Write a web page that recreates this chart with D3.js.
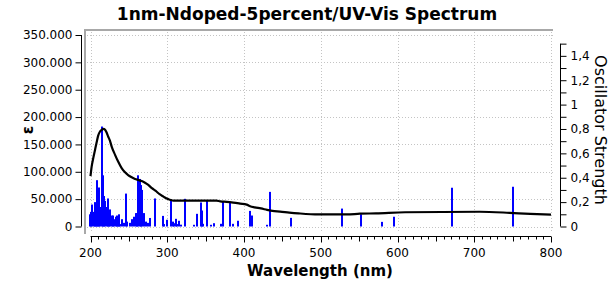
<!DOCTYPE html>
<html>
<head>
<meta charset="utf-8">
<script src="https://cdn.jsdelivr.net/npm/d3@7"></script>
<style>
  body { margin: 0; background: #fff; }
  svg { display: block; }
  text { font-family: "DejaVu Sans", Verdana, sans-serif; }
</style>
</head>
<body>
<div id="chart"></div>
<script>
// absorption curve (epsilon)
const curveNm = [200, 201.5, 203.6, 205.9, 208, 210, 212.4, 214.6, 216.7, 219, 221, 223, 225.4, 227.6, 232, 236, 240.6, 245, 249, 253.7, 258, 262.3, 266.7, 271, 275.3, 280, 285, 290, 295, 299.3, 303.6, 308, 364, 369, 377.5, 386, 395, 403.5, 408, 414, 422, 430, 437, 447, 459, 471, 497, 534, 551, 572, 610, 707, 746, 773, 800];
const curveEps = [92000, 109500, 125000, 140000, 154000, 166000, 173600, 176700, 178500, 176700, 171800, 164500, 156600, 146000, 131000, 118700, 106600, 99000, 94000, 90000, 87000, 85000, 83000, 80000, 76000, 70000, 65000, 59000, 54600, 51000, 49000, 47300, 47300, 46000, 45000, 43600, 41800, 40000, 37000, 35000, 33000, 30500, 28500, 27300, 25500, 24000, 22000, 22000, 23400, 24000, 26000, 27000, 25000, 23000, 21600];

// oscillator strength sticks
const stickNm = [199.5, 201, 202.5, 204, 205.5, 207, 208.5, 210, 211.5, 213, 215, 216.5, 218, 219.5, 221, 223, 224.5, 226, 228, 229.5, 231, 233, 234.5, 236, 237.5, 239, 241, 243, 246, 248, 251, 254, 257, 259, 260.5, 262.3, 264, 265.5, 267, 270, 272, 275, 277.5, 284, 294.5, 296, 300, 304.5, 307, 309, 311, 313, 315.7, 318, 322.9, 335.5, 339.4, 343.7, 345.3, 347, 351.5, 357, 361, 370, 372.4, 381.5, 385.4, 391.8, 407.6, 410, 430, 433.6, 461, 527.4, 552, 579.4, 595.5, 671, 750.5];
const stickF = [0.10, 0.12, 0.18, 0.12, 0.20, 0.09, 0.38, 0.25, 0.32, 0.16, 0.82, 0.42, 0.25, 0.21, 0.16, 0.23, 0.10, 0.14, 0.09, 0.09, 0.06, 0.08, 0.09, 0.04, 0.10, 0.02, 0.06, 0.03, 0.27, 0.04, 0.03, 0.06, 0.08, 0.11, 0.11, 0.42, 0.39, 0.34, 0.30, 0.11, 0.04, 0.03, 0.07, 0.23, 0.087, 0.02, 0.055, 0.219, 0.04, 0.027, 0.063, 0.02, 0.047, 0.015, 0.227, 0.014, 0.104, 0.197, 0.131, 0.022, 0.21, 0.014, 0.027, 0.022, 0.205, 0.2, 0.022, 0.047, 0.128, 0.09, 0.014, 0.284, 0.071, 0.147, 0.10, 0.038, 0.08, 0.318, 0.326];

const leftTicks = [0, 50000, 100000, 150000, 200000, 250000, 300000, 350000];
const rightTicks = [0, 0.2, 0.4, 0.6, 0.8, 1, 1.2, 1.4];
const xTicks = [200, 300, 400, 500, 600, 700, 800];

const W = 614, H = 282;
const frame = {left: 85, top: 30, right: 553, bottom: 231};

const svg = d3.select("#chart").append("svg")
  .attr("width", W).attr("height", H);

const x = d3.scaleLinear().domain([200, 800]).range([90.5, 551]);
const yL = d3.scaleLinear().domain([0, 350000]).range([226.5, 35]);
const yR = d3.scaleLinear().domain([0, 1.571]).range([226.5, 35]);

// dotted grid
const grid = svg.append("g").attr("stroke", "#c4c4c4").attr("stroke-dasharray", "1,2").attr("stroke-width", 1);
grid.selectAll("line.v").data(xTicks).join("line")
  .attr("x1", d => Math.round(x(d)) + 0.5).attr("x2", d => Math.round(x(d)) + 0.5)
  .attr("y1", frame.top + 2).attr("y2", frame.bottom + 2);
grid.selectAll("line.h").data(leftTicks).join("line")
  .attr("x1", frame.left + 2).attr("x2", frame.right)
  .attr("y1", d => Math.round(yL(d)) + 0.5).attr("y2", d => Math.round(yL(d)) + 0.5);

// plot frame, top and left edges
svg.append("path")
  .attr("d", `M${frame.left},${frame.bottom + 3}V${frame.top}H${frame.right}`)
  .attr("fill", "none").attr("stroke", "#a8a8a8").attr("stroke-width", 2);

// sticks
svg.append("g").selectAll("rect").data(stickNm).join("rect")
  .attr("x", d => Math.round(x(d)) - 1)
  .attr("width", 2)
  .attr("y", (d, i) => yR(stickF[i]))
  .attr("height", (d, i) => yR(0) - yR(stickF[i]))
  .attr("fill", "#0000ff");

// spectrum curve
svg.append("path")
  .datum(curveNm)
  .attr("d", d3.line().x(d => x(d)).y((d, i) => yL(curveEps[i])).curve(d3.curveMonotoneX))
  .attr("fill", "none").attr("stroke", "#000").attr("stroke-width", 2.2);

// left axis
const fmtL = d => d === 0 ? "0" : d3.format(",.0f")(d).replace(/,/g, ".") .replace(/^(\d+)\.000$/, "$1.000");
const axL = svg.append("g").attr("transform", "translate(81.5,0)")
  .call(d3.axisLeft(yL).tickValues(leftTicks).tickSize(6).tickPadding(3).tickFormat(fmtL));
axL.select(".domain").attr("d", `M-0,${yL(0)}V${yL(350000)}`);

// right axis
const axR = svg.append("g").attr("transform", "translate(560.5,0)")
  .call(d3.axisRight(yR).tickValues(d3.range(0, 16).map(i => i / 10)).tickSize(6).tickPadding(4)
    .tickFormat(d => rightTicks.some(t => Math.abs(t - d) < 1e-6) ? String(+d.toFixed(1)).replace(".", ",") : ""));
axR.select(".domain").attr("d", `M0,${yR(0)}V${yR(1.5)}`);

// bottom axis with three tick sizes
const axB = svg.append("g").attr("transform", "translate(0,236.5)");
axB.append("line").attr("x1", x(200)).attr("x2", x(800)).attr("stroke", "#000");
axB.selectAll("line.t").data(d3.range(200, 801, 10)).join("line")
  .attr("x1", d => Math.round(x(d)) + 0.5).attr("x2", d => Math.round(x(d)) + 0.5)
  .attr("y1", 0).attr("y2", d => d % 100 === 0 ? 6 : d % 50 === 0 ? 5 : 3)
  .attr("stroke", "#000");
axB.selectAll("text").data(xTicks).join("text")
  .attr("x", d => x(d)).attr("y", 20)
  .attr("text-anchor", "middle").attr("font-size", 12).attr("fill", "#000")
  .text(d => d);

svg.selectAll(".tick text").attr("font-size", 12).attr("fill", "#000").attr("font-family", "DejaVu Sans, Verdana, sans-serif");
svg.selectAll(".domain, .tick line").attr("stroke", "#000");

// titles
svg.append("text").attr("x", 307).attr("y", 20).attr("text-anchor", "middle")
  .attr("font-size", 17).attr("font-weight", "bold").text("1nm-Ndoped-5percent/UV-Vis Spectrum");
svg.append("text").attr("x", 320).attr("y", 276).attr("text-anchor", "middle")
  .attr("font-size", 15).attr("font-weight", "bold").text("Wavelength (nm)");
svg.append("text").attr("transform", "translate(33,130) rotate(-90)").attr("text-anchor", "middle")
  .attr("font-size", 15).attr("font-weight", "bold").text("ε");
svg.append("text").attr("transform", "translate(595,130) rotate(90)").attr("text-anchor", "middle")
  .attr("font-size", 16).text("Oscillator Strength");
</script>
</body>
</html>
